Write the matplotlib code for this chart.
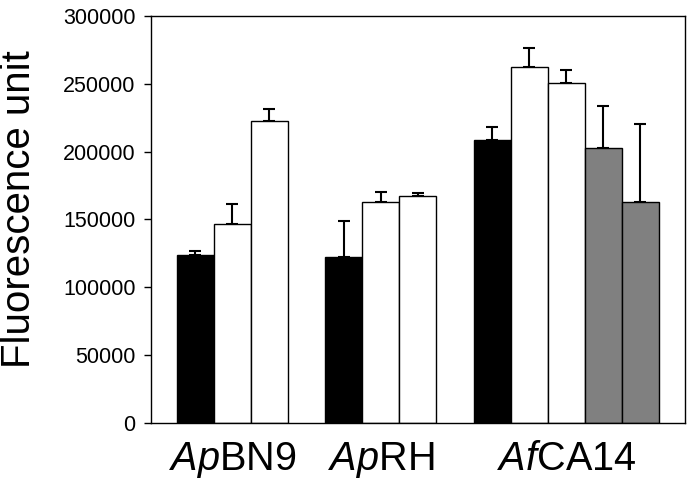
import matplotlib
matplotlib.use("Agg")
import matplotlib.pyplot as plt
import numpy as np

plt.rcParams['font.family'] = ['Liberation Sans', 'DejaVu Sans']
plt.rcParams['mathtext.fontset'] = 'custom'
plt.rcParams['mathtext.rm'] = 'Liberation Sans'
plt.rcParams['mathtext.it'] = 'Liberation Sans:italic'

groups = [r'$\mathit{Ap}$BN9', r'$\mathit{Ap}$RH', r'$\mathit{Af}$CA14']
group_values = [
    [124000, 146600, 222600],
    [122000, 162600, 167500],
    [208800, 262600, 250600, 202400, 162600],
]
group_errors = [
    [2600, 15000, 9000],
    [27000, 7800, 2200],
    [9600, 13800, 9600, 31000, 57700],
]
group_colors = [
    ['black', 'white', 'white'],
    ['black', 'white', 'white'],
    ['black', 'white', 'white', '#808080', '#808080'],
]
yticks = [0, 50000, 100000, 150000, 200000, 250000, 300000]

fig = plt.figure(figsize=(6.94, 4.87), dpi=100)
ax = fig.add_axes([150.7/694, 1-422.7/487, (685-150.7)/694, (422.7-16)/487])

start = 0.7
centers = []
for vals, errs, cols in zip(group_values, group_errors, group_colors):
    x = start + 0.5 + np.arange(len(vals))
    ax.bar(x, vals, width=1.0, color=cols, edgecolor='black', linewidth=1.0, zorder=2)
    ax.errorbar(x, vals, yerr=[np.zeros(len(errs)), errs], fmt='none', ecolor='black',
                elinewidth=1.5, capsize=4.5, capthick=1.5, zorder=1)
    centers.append(start + len(vals) / 2)
    start += len(vals) + 1

ax.set_xlim(0, 14.4)
ax.set_ylim(0, 300000)
ax.set_yticks(yticks)
ax.set_yticklabels([str(v) for v in yticks], fontsize=15.5)
ax.set_xticks(centers)
ax.set_xticklabels(groups, fontsize=28.5)
ax.tick_params(axis='x', length=0, pad=12.5)
ax.tick_params(axis='y', direction='out', length=5, width=1.0, pad=6)
ax.set_ylabel('Fluorescence unit', fontsize=29, labelpad=17.5)
ax.yaxis.label.set_y(0.525)
for s in ax.spines.values():
    s.set_linewidth(1.0)

fig.savefig('out.png', dpi=100)
